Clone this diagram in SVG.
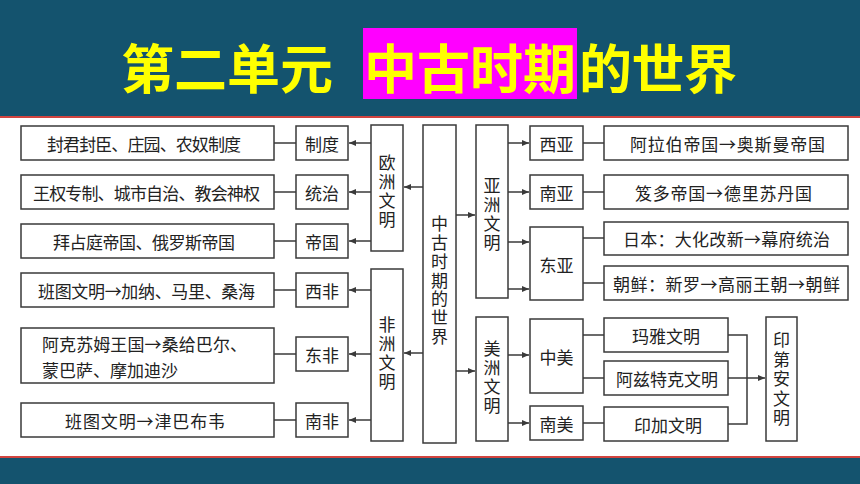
<svg xmlns="http://www.w3.org/2000/svg" width="860" height="484" viewBox="0 0 860 484">
<style>
.bx{fill:#fff;stroke:#3a3a3a;stroke-width:1.5}
.t{font-family:"Noto Sans CJK SC","Noto Sans",sans-serif;font-size:17px;fill:#222;dominant-baseline:central}
.v{font-family:"Noto Sans CJK SC","Noto Sans",sans-serif;font-size:17px;fill:#222;writing-mode:vertical-rl;text-anchor:middle;letter-spacing:2px}
.c{text-anchor:middle}
.ln{stroke:#3a3a3a;stroke-width:1.5;fill:none}
.ar{stroke:#3a3a3a;stroke-width:1.5;fill:none;marker-end:url(#ah)}
.ttl{font-family:"Noto Sans CJK SC","Noto Sans",sans-serif;font-size:53px;font-weight:700;fill:#ffff00;dominant-baseline:central}
</style>
<defs>
<marker id="ah" markerUnits="userSpaceOnUse" markerWidth="8" markerHeight="7" refX="7" refY="3.5" orient="auto">
<path d="M0,0.5 L7,3.5 L0,6.5 Z" fill="#3a3a3a"/>
</marker>
</defs>
<rect x="0" y="0" width="860" height="484" fill="#ffffff"/>
<g id="header">
<rect x="0" y="0" width="860" height="116" fill="#14536e"/>
<rect x="0" y="116" width="860" height="2" fill="#d2443f"/>
<rect x="363" y="28" width="214" height="71" fill="#ff00ff"/>
<text class="ttl" x="121" y="66" textLength="212">第二单元</text>
<text class="ttl" x="364" y="66" textLength="212">中古时期</text>
<text class="ttl" x="579" y="66" textLength="158">的世界</text>
</g>
<g id="footer">
<rect x="0" y="456" width="860" height="2" fill="#d2443f"/>
<rect x="0" y="458" width="860" height="26" fill="#14536e"/>
</g>
<g id="connectors">
<line class="ar" x1="423" y1="187" x2="404" y2="187"/>
<line class="ar" x1="423" y1="353" x2="404" y2="353"/>
<line class="ar" x1="456" y1="215" x2="475" y2="215"/>
<line class="ar" x1="456" y1="371" x2="475" y2="371"/>
<line class="ar" x1="371" y1="143" x2="349" y2="143"/>
<line class="ar" x1="371" y1="192" x2="349" y2="192"/>
<line class="ar" x1="371" y1="241" x2="349" y2="241"/>
<line class="ar" x1="371" y1="290" x2="349" y2="290"/>
<line class="ar" x1="371" y1="354" x2="349" y2="354"/>
<line class="ar" x1="371" y1="420" x2="349" y2="420"/>
<line class="ln" x1="274" y1="143" x2="296" y2="143"/>
<line class="ln" x1="274" y1="192" x2="296" y2="192"/>
<line class="ln" x1="274" y1="241" x2="296" y2="241"/>
<line class="ln" x1="274" y1="290" x2="296" y2="290"/>
<line class="ln" x1="274" y1="354" x2="296" y2="354"/>
<line class="ln" x1="274" y1="420" x2="296" y2="420"/>
<line class="ar" x1="508" y1="143" x2="529" y2="143"/>
<line class="ar" x1="508" y1="192" x2="529" y2="192"/>
<line class="ar" x1="508" y1="242" x2="529" y2="242"/>
<line class="ar" x1="508" y1="289" x2="529" y2="289"/>
<line class="ln" x1="583" y1="143" x2="604" y2="143"/>
<line class="ln" x1="583" y1="192" x2="604" y2="192"/>
<line class="ln" x1="583" y1="238" x2="604" y2="238"/>
<line class="ln" x1="583" y1="283" x2="604" y2="283"/>
<line class="ar" x1="508" y1="355" x2="529" y2="355"/>
<line class="ar" x1="508" y1="423" x2="529" y2="423"/>
<line class="ln" x1="583" y1="335" x2="604" y2="335"/>
<line class="ln" x1="583" y1="378" x2="604" y2="378"/>
<line class="ln" x1="583" y1="423" x2="604" y2="423"/>
<polyline class="ln" points="728,335 747,335 747,424 728,424"/>
<line class="ar" x1="728" y1="378" x2="765" y2="378"/>
</g>
<g id="n-root">
<rect class="bx" x="423" y="125" width="33" height="318"/>
<text class="v" x="439.5" y="281" style="letter-spacing:1.8px">中古时期的世界</text>
</g>
<g id="n-europe">
<rect class="bx" x="371" y="125" width="32" height="126"/>
<text class="v" x="387" y="192">欧洲文明</text>
</g>
<g id="n-africa">
<rect class="bx" x="371" y="269" width="32" height="172"/>
<text class="v" x="387" y="354">非洲文明</text>
</g>
<g id="n-asia">
<rect class="bx" x="476" y="125" width="32" height="173"/>
<text class="v" x="492" y="215">亚洲文明</text>
</g>
<g id="n-america">
<rect class="bx" x="476" y="317" width="32" height="124"/>
<text class="v" x="492" y="378">美洲文明</text>
</g>
<g id="n-zhidu">
<rect class="bx" x="296" y="126" width="52" height="34"/>
<text class="t c" x="322" y="143">制度</text>
</g>
<g id="n-tongzhi">
<rect class="bx" x="296" y="175" width="52" height="34"/>
<text class="t c" x="322" y="192">统治</text>
</g>
<g id="n-diguo">
<rect class="bx" x="296" y="224" width="52" height="34"/>
<text class="t c" x="322" y="241">帝国</text>
</g>
<g id="n-xifei">
<rect class="bx" x="296" y="273" width="52" height="34"/>
<text class="t c" x="322" y="290">西非</text>
</g>
<g id="n-dongfei">
<rect class="bx" x="296" y="337" width="52" height="34"/>
<text class="t c" x="322" y="354">东非</text>
</g>
<g id="n-nanfei">
<rect class="bx" x="296" y="403" width="52" height="34"/>
<text class="t c" x="322" y="420">南非</text>
</g>
<g id="n-l1">
<rect class="bx" x="21" y="126" width="253" height="34"/>
<text class="t c" x="144" y="143" textLength="194">封君封臣、庄园、农奴制度</text>
</g>
<g id="n-l2">
<rect class="bx" x="21" y="175" width="253" height="34"/>
<text class="t c" x="146.5" y="192" textLength="227">王权专制、城市自治、教会神权</text>
</g>
<g id="n-l3">
<rect class="bx" x="21" y="224" width="253" height="34"/>
<text class="t c" x="144" y="241" textLength="182">拜占庭帝国、俄罗斯帝国</text>
</g>
<g id="n-l4">
<rect class="bx" x="21" y="273" width="253" height="34"/>
<text class="t c" x="146.5" y="290" textLength="217">班图文明→加纳、马里、桑海</text>
</g>
<g id="n-l5">
<rect class="bx" x="21" y="328" width="253" height="55"/>
<text class="t" x="42" y="343" textLength="205">阿克苏姆王国→桑给巴尔、</text>
<text class="t" x="42" y="369" textLength="136">蒙巴萨、摩加迪沙</text>
</g>
<g id="n-l6">
<rect class="bx" x="21" y="403" width="253" height="34"/>
<text class="t c" x="145" y="420" textLength="160">班图文明→津巴布韦</text>
</g>
<g id="n-xiya">
<rect class="bx" x="530" y="126" width="53" height="34"/>
<text class="t c" x="556.5" y="143">西亚</text>
</g>
<g id="n-nanya">
<rect class="bx" x="530" y="175" width="53" height="34"/>
<text class="t c" x="556.5" y="192">南亚</text>
</g>
<g id="n-dongya">
<rect class="bx" x="530" y="227" width="53" height="73"/>
<text class="t c" x="556.5" y="264">东亚</text>
</g>
<g id="n-zhongmei">
<rect class="bx" x="530" y="319" width="53" height="74"/>
<text class="t c" x="556.5" y="356">中美</text>
</g>
<g id="n-nanmei">
<rect class="bx" x="530" y="406" width="53" height="34"/>
<text class="t c" x="556.5" y="423">南美</text>
</g>
<g id="n-r1">
<rect class="bx" x="604" y="126" width="244" height="34"/>
<text class="t c" x="727.5" y="143" textLength="195">阿拉伯帝国→奥斯曼帝国</text>
</g>
<g id="n-r2">
<rect class="bx" x="604" y="175" width="244" height="34"/>
<text class="t c" x="723.5" y="192" textLength="177">笈多帝国→德里苏丹国</text>
</g>
<g id="n-r3">
<rect class="bx" x="604" y="222" width="244" height="33"/>
<text class="t c" x="726.5" y="238.5" textLength="207">日本：大化改新→幕府统治</text>
</g>
<g id="n-r4">
<rect class="bx" x="604" y="266" width="244" height="34"/>
<text class="t c" x="726.5" y="283" textLength="227">朝鲜：新罗→高丽王朝→朝鲜</text>
</g>
<g id="n-maya">
<rect class="bx" x="604" y="318" width="124" height="34"/>
<text class="t c" x="666" y="335">玛雅文明</text>
</g>
<g id="n-aztec">
<rect class="bx" x="604" y="361" width="124" height="34"/>
<text class="t c" x="667" y="378">阿兹特克文明</text>
</g>
<g id="n-inca">
<rect class="bx" x="604" y="407" width="124" height="34"/>
<text class="t c" x="668" y="424">印加文明</text>
</g>
<g id="n-indian">
<rect class="bx" x="766" y="317" width="31" height="124"/>
<text class="v" x="781.5" y="380" style="letter-spacing:2.5px">印第安文明</text>
</g>
</svg>
